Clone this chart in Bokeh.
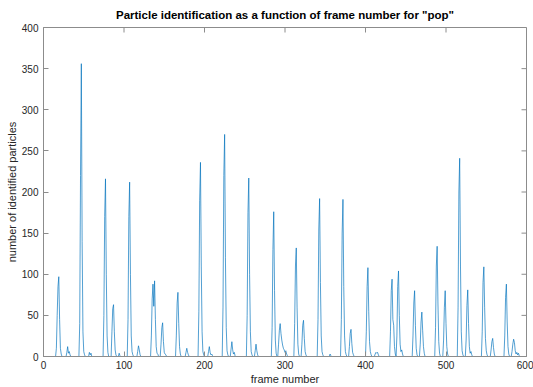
import math
from bokeh.plotting import figure
from bokeh.models import Range1d, FixedTicker
from bokeh.embed import file_html
from bokeh.resources import INLINE

# frame number samples and identified-particle counts (zeros between peaks)
frames = [1,
    15,16,17,18,19,20,21,22,23,
    28,29,30,31,32,33,34,
    44,45,46,47,48,49,50,51,52,
    56,57,58,59,60,
    74,75,76,77,78,79,80,81,
    84,85,86,87,88,89,90,91,93,94,95,96,
    104,105,106,107,108,109,110,111,112,
    116,117,118,119,120,121,
    133,134,135,136,137,138,139,140,141,142,143,
    145,146,147,148,149,150,151,152,153,
    164,165,166,167,168,169,170,171,
    176,177,178,179,180,181,
    192,193,194,195,196,197,198,199,200,
    204,205,206,207,208,209,210,211,
    222,223,224,225,226,227,228,229,230,
    232,233,234,235,236,237,238,239,
    252,253,254,255,256,257,258,259,260,
    262,263,264,265,266,267,
    283,284,285,286,287,288,289,290,
    291,292,293,294,295,296,297,298,299,300,301,302,303,304,
    311,312,313,314,315,316,317,318,
    320,321,322,323,324,325,326,327,
    340,341,342,343,344,345,346,347,348,
    355,356,357,358,
    369,370,371,372,373,374,375,376,377,
    379,380,381,382,383,384,385,386,
    400,401,402,403,404,405,406,407,408,
    411,412,413,414,415,416,417,
    430,431,432,433,434,435,436,437,438,439,440,441,442,443,444,445,446,447,
    458,459,460,461,462,463,464,465,
    467,468,469,470,471,472,473,474,
    486,487,488,489,490,491,492,493,
    496,497,498,499,500,501,502,503,
    514,515,516,517,518,519,520,521,522,
    524,525,526,527,528,529,530,531,532,533,
    544,545,546,547,548,549,550,551,552,
    555,556,557,558,559,560,561,
    572,573,574,575,576,577,578,579,
    581,582,583,584,585,586,587,588,589,590,591,592,594]

counts = [0,
    0,10,50,85,97,45,10,3,0,
    0,5,12,4,6,2,0,
    0,40,220,356,140,30,6,2,0,
    0,5,2,4,0,
    0,50,170,216,100,25,5,0,
    0,30,58,63,30,8,2,0,0,4,1,0,
    0,45,170,212,100,25,6,2,0,
    0,6,13,8,2,0,
    0,25,70,88,61,92,45,12,4,3,0,
    0,15,35,41,18,5,3,2,0,
    0,25,65,78,40,12,3,0,
    0,5,10,5,2,0,
    0,55,190,236,110,30,6,2,0,
    0,6,12,5,2,3,1,0,
    0,60,220,270,120,35,7,2,0,
    0,9,18,8,3,5,1,0,
    0,50,175,217,100,30,6,2,0,
    0,7,15,7,2,0,
    0,35,130,176,80,20,4,0,
    0,15,32,40,28,20,14,10,8,5,7,3,1,0,
    0,40,110,132,60,15,3,0,
    0,15,38,44,22,6,2,0,
    0,45,155,192,90,25,6,2,0,
    0,3,1,0,
    0,45,150,191,85,25,6,2,0,
    0,12,28,33,16,5,2,0,
    0,30,85,108,55,18,6,2,0,
    0,3,5,4,5,2,0,
    0,30,80,94,45,38,12,3,0,25,85,104,50,15,6,8,3,0,
    0,25,65,80,38,10,2,0,
    0,15,42,54,32,12,4,0,
    0,35,110,134,65,18,4,0,
    0,20,60,80,40,12,3,0,
    0,60,200,241,110,30,7,2,0,
    0,20,62,81,40,12,4,6,2,0,
    0,30,90,109,60,22,7,2,0,
    0,8,18,22,11,3,0,
    0,25,72,88,42,12,3,0,
    0,6,15,21,17,7,3,5,2,4,1,0,0]

x_ticks = [0, 100, 200, 300, 400, 500, 600]
y_ticks = [0, 50, 100, 150, 200, 250, 300, 350, 400]
x_max = 600
y_max = 400

FONT = "Liberation Sans"
AX = "#262626"
BOX = "#8c8c8c"

p = figure(width=533, height=387, output_backend="svg", toolbar_location=None,
           x_range=Range1d(0, x_max), y_range=Range1d(0, y_max),
           title='Particle identification as a function of frame number for "pop"',
           min_border_left=43, min_border_right=7, min_border_top=27, min_border_bottom=30)

p.title.align = "center"
p.title.text_font = FONT
p.title.text_font_size = "11.5px"
p.title.text_font_style = "bold"
p.title.text_color = "#000000"
p.title.standoff = 13
p.title.offset = 0

p.xgrid.visible = False
p.ygrid.visible = False
p.outline_line_color = BOX
p.outline_line_width = 1
p.background_fill_color = "white"
p.border_fill_color = "white"

p.line(frames, counts, line_color="#0072BD", line_width=0.8, line_alpha=0.85)

for ax, ticks in ((p.xaxis[0], x_ticks), (p.yaxis[0], y_ticks)):
    ax.ticker = FixedTicker(ticks=ticks)
    ax.major_tick_in = 5
    ax.major_tick_out = 0
    ax.minor_tick_line_color = None
    ax.axis_line_color = BOX
    ax.major_tick_line_color = BOX
    ax.major_label_text_font = FONT
    ax.major_label_text_font_size = "10px"
    ax.major_label_text_color = AX
    ax.axis_label_text_font = FONT
    ax.axis_label_text_font_size = "11px"
    ax.axis_label_text_font_style = "normal"
    ax.axis_label_text_color = AX

p.xaxis[0].axis_label = "frame number"
p.xaxis[0].major_label_standoff = 4
p.xaxis[0].axis_label_standoff = 1
p.yaxis[0].axis_label = "number of identified particles"
p.yaxis[0].major_label_standoff = 5
p.yaxis[0].axis_label_standoff = 1

# inward ticks on the top and right edges of the box
p.ray(x=x_ticks, y=[y_max] * len(x_ticks), length=5, length_units="screen",
      angle=-math.pi / 2, line_color=BOX, line_width=1)
p.ray(x=[x_max] * len(y_ticks), y=y_ticks, length=5, length_units="screen",
      angle=math.pi, line_color=BOX, line_width=1)

open("out.html", "w").write(file_html(p, INLINE))
